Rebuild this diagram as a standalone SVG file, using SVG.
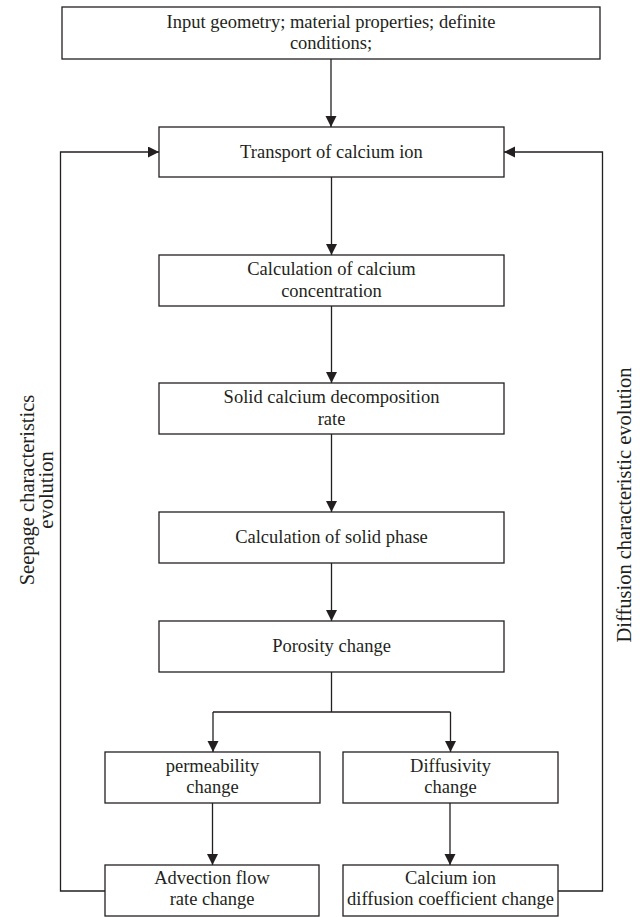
<svg xmlns="http://www.w3.org/2000/svg" width="640" height="917" viewBox="0 0 640 917">
<style>
.box{fill:#fff;stroke:#231f20;stroke-width:1.3}
.t{font-family:"Liberation Serif","Times New Roman",serif;font-size:18.5px;fill:#231f20;text-anchor:middle}
.v{font-size:20.5px}
.c{fill:none;stroke:#231f20;stroke-width:1.3}
</style>
<defs>
<marker id="ah" markerUnits="userSpaceOnUse" markerWidth="12" markerHeight="12" refX="11" refY="5.5" orient="auto">
<path d="M0,0 L11,5.5 L0,11 Z" fill="#231f20"/>
</marker>
</defs>
<rect width="640" height="917" fill="#fff"/>
<g id="connectors">
<path class="c" d="M331,59 V127" marker-end="url(#ah)"/>
<path class="c" d="M331.5,177 V255" marker-end="url(#ah)"/>
<path class="c" d="M331.5,306 V383" marker-end="url(#ah)"/>
<path class="c" d="M331.5,434 V512" marker-end="url(#ah)"/>
<path class="c" d="M331.5,563 V621" marker-end="url(#ah)"/>
<path class="c" d="M331.5,672 V712"/>
<path class="c" d="M213,712 H450.5"/>
<path class="c" d="M213,712 V752" marker-end="url(#ah)"/>
<path class="c" d="M450.5,712 V752" marker-end="url(#ah)"/>
<path class="c" d="M212.5,803 V865" marker-end="url(#ah)"/>
<path class="c" d="M450,803 V865" marker-end="url(#ah)"/>
<path class="c" d="M105,891 H60.5 V152 H159" marker-end="url(#ah)"/>
<path class="c" d="M558,891 H602.5 V152 H504" marker-end="url(#ah)"/>
</g>
<g id="input">
<rect class="box" x="62" y="7" width="538" height="52"/>
<text class="t" x="331" y="28">Input geometry; material properties; definite</text>
<text class="t" x="331" y="49">conditions;</text>
</g>
<g id="transport">
<rect class="box" x="159" y="127" width="345" height="50"/>
<text class="t" x="331.5" y="158">Transport of calcium ion</text>
</g>
<g id="concentration">
<rect class="box" x="159" y="255" width="345" height="51"/>
<text class="t" x="331.5" y="275">Calculation of calcium</text>
<text class="t" x="331.5" y="297">concentration</text>
</g>
<g id="decomposition">
<rect class="box" x="159" y="383" width="345" height="51"/>
<text class="t" x="331.5" y="403">Solid calcium decomposition</text>
<text class="t" x="331.5" y="425">rate</text>
</g>
<g id="solidphase">
<rect class="box" x="159" y="512" width="345" height="51"/>
<text class="t" x="331.5" y="543">Calculation of solid phase</text>
</g>
<g id="porosity">
<rect class="box" x="159" y="621" width="345" height="51"/>
<text class="t" x="331.5" y="652">Porosity change</text>
</g>
<g id="permeability">
<rect class="box" x="105" y="752" width="215" height="51"/>
<text class="t" x="212.5" y="772">permeability</text>
<text class="t" x="212.5" y="793">change</text>
</g>
<g id="diffusivity">
<rect class="box" x="343" y="752" width="215" height="51"/>
<text class="t" x="450.5" y="772">Diffusivity</text>
<text class="t" x="450.5" y="793">change</text>
</g>
<g id="advection">
<rect class="box" x="105" y="865" width="214" height="51"/>
<text class="t" x="212" y="884">Advection flow</text>
<text class="t" x="212" y="905">rate change</text>
</g>
<g id="diffcoef">
<rect class="box" x="343" y="865" width="215" height="51"/>
<text class="t" x="450.5" y="884">Calcium ion</text>
<text class="t" x="450.5" y="905">diffusion coefficient change</text>
</g>
<g id="seepage-label">
<text class="t v" transform="translate(34,490) rotate(-90)">Seepage characteristics</text>
<text class="t v" transform="translate(53,490) rotate(-90)">evolution</text>
</g>
<g id="diffusion-label">
<text class="t v" transform="translate(631,505) rotate(-90)">Diffusion characteristic evolution</text>
</g>
</svg>
